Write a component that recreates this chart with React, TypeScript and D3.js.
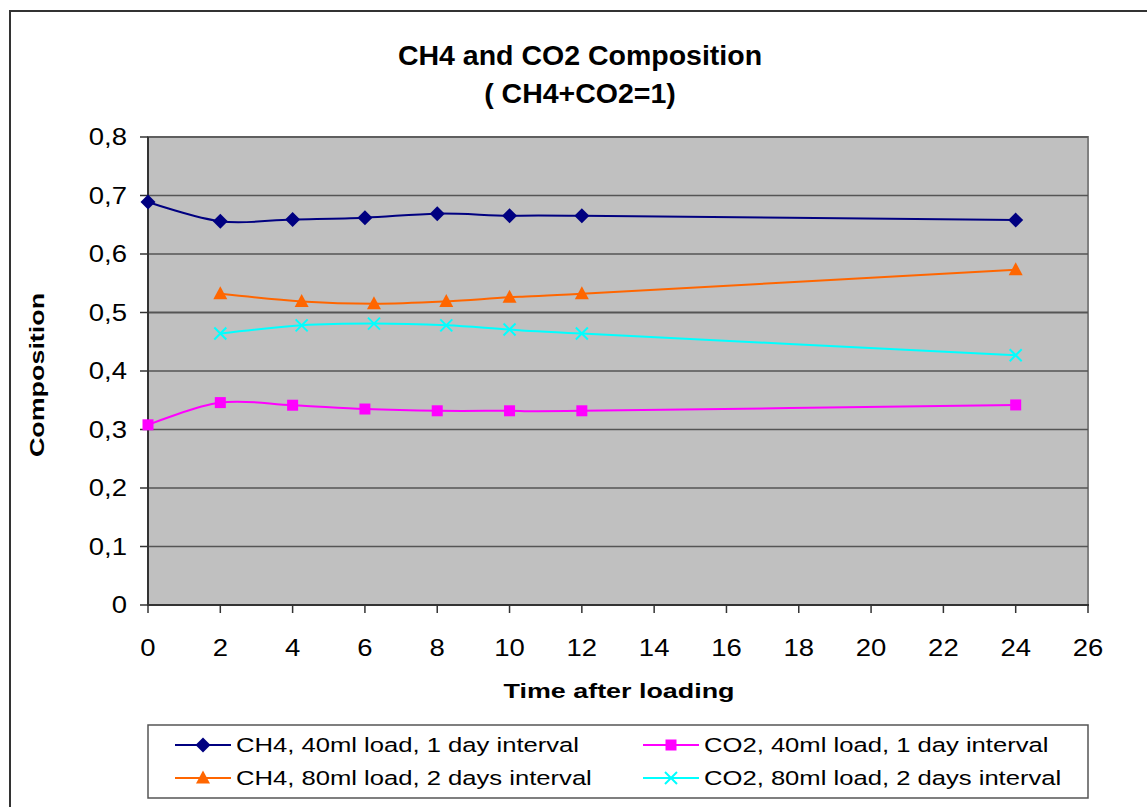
import React from "react";
import * as d3 from "d3";

const titleLines = ["CH4 and CO2 Composition", "( CH4+CO2=1)"];
const xTicks = [0, 2, 4, 6, 8, 10, 12, 14, 16, 18, 20, 22, 24, 26];
const yTicks = [0, 0.1, 0.2, 0.3, 0.4, 0.5, 0.6, 0.7, 0.8];

const ch4_40_x = [0, 2, 4, 6, 8, 10, 12, 24];
const ch4_40_y = [0.689, 0.656, 0.659, 0.662, 0.669, 0.6655, 0.6655, 0.658];
const co2_40_x = [0, 2, 4, 6, 8, 10, 12, 24];
const co2_40_y = [0.308, 0.346, 0.3415, 0.335, 0.332, 0.332, 0.332, 0.342];
const ch4_80_x = [2, 4.25, 6.25, 8.25, 10, 12, 24];
const ch4_80_y = [0.532, 0.519, 0.515, 0.519, 0.526, 0.532, 0.573];
const co2_80_x = [2, 4.25, 6.25, 8.25, 10, 12, 24];
const co2_80_y = [0.464, 0.478, 0.481, 0.478, 0.471, 0.464, 0.427];

const seriesNames = [
  "CH4, 40ml load, 1 day interval",
  "CO2, 40ml load, 1 day interval",
  "CH4, 80ml load, 2 days interval",
  "CO2, 80ml load, 2 days interval",
];
const seriesColors = ["#000080", "#FF00FF", "#FF6600", "#00FFFF"];
const seriesMarkers = ["diamond", "square", "triangle", "x"];

const W = 1147;
const H = 807;
const plot = { left: 148, right: 1088, top: 137, bottom: 605 };
const FONT = "'Liberation Sans', Arial, Helvetica, sans-serif";

function Marker({ type, x, y, color }: { type: string; x: number; y: number; color: string }) {
  if (type === "diamond") {
    const s = 7.5;
    return <path d={`M${x},${y - s}L${x + s},${y}L${x},${y + s}L${x - s},${y}Z`} fill={color} />;
  }
  if (type === "square") {
    const s = 5.5;
    return <rect x={x - s} y={y - s} width={2 * s} height={2 * s} fill={color} />;
  }
  if (type === "triangle") {
    return <path d={`M${x},${y - 7.5}L${x + 7},${y + 5.5}L${x - 7},${y + 5.5}Z`} fill={color} />;
  }
  const s = 6;
  return (
    <path
      d={`M${x - s},${y - s}L${x + s},${y + s}M${x - s},${y + s}L${x + s},${y - s}`}
      stroke={color}
      strokeWidth={2}
      fill="none"
    />
  );
}

function WideText({
  x,
  y,
  rotate = 0,
  anchor = "start",
  size,
  sx = 1.28,
  bold = false,
  dy,
  children,
}: {
  x: number;
  y: number;
  rotate?: number;
  anchor?: string;
  size: number;
  sx?: number;
  bold?: boolean;
  dy?: string;
  children: React.ReactNode;
}) {
  return (
    <text
      transform={`translate(${x},${y}) rotate(${rotate}) scale(${sx},1)`}
      textAnchor={anchor as any}
      fontSize={size}
      fontWeight={bold ? "bold" : "normal"}
      dy={dy}
      fill="#000"
    >
      {children}
    </text>
  );
}

export default function App() {
  const x = d3.scaleLinear().domain([0, 26]).range([plot.left, plot.right]);
  const y = d3.scaleLinear().domain([0, 0.8]).range([plot.bottom, plot.top]);
  const series = [
    { xs: ch4_40_x, ys: ch4_40_y },
    { xs: co2_40_x, ys: co2_40_y },
    { xs: ch4_80_x, ys: ch4_80_y },
    { xs: co2_80_x, ys: co2_80_y },
  ];
  const line = d3
    .line<[number, number]>()
    .x((d) => x(d[0]))
    .y((d) => y(d[1]))
    .curve(d3.curveCatmullRom.alpha(0));

  const fmt = (v: number) => (v === 0 ? "0" : d3.format(".1f")(v).replace(".", ","));

  const legendRows = [
    { y: 745, items: [0, 1] },
    { y: 778, items: [2, 3] },
  ];
  const legendCols = [175, 643];

  return (
    <svg
      width={W}
      height={H}
      style={{ position: "absolute", left: 0, top: 0, background: "#fff" }}
      fontFamily={FONT}
    >
      <rect x={0} y={0} width={W} height={H} fill="#fff" />
      {/* outer chart frame */}
      <rect x={10} y={11} width={W + 20} height={H + 20} fill="none" stroke="#333" strokeWidth={2} />

      {/* title */}
      {titleLines.map((t, i) => (
        <text key={i} x={580} y={65 + i * 38} textAnchor="middle" fontSize={28.5} fontWeight="bold" fill="#000">
          {t}
        </text>
      ))}

      {/* plot area */}
      <rect
        x={plot.left}
        y={plot.top}
        width={plot.right - plot.left}
        height={plot.bottom - plot.top}
        fill="#C0C0C0"
        stroke="#808080"
        strokeWidth={2}
      />
      {yTicks.map((t) => (
        <g key={t}>
          {t > 0 && (
            <line x1={plot.left} x2={plot.right} y1={y(t)} y2={y(t)} stroke="#555" strokeWidth={t === 0.5 ? 2 : 1.3} />
          )}
          <line x1={plot.left - 8} x2={plot.left} y1={y(t)} y2={y(t)} stroke="#333" strokeWidth={1.5} />
          <WideText x={127} y={y(t)} dy="0.36em" anchor="end" size={23.5} sx={1.17}>
            {fmt(t)}
          </WideText>
        </g>
      ))}
      {xTicks.map((t) => (
        <g key={t}>
          <line x1={x(t)} x2={x(t)} y1={plot.bottom} y2={plot.bottom + 8} stroke="#333" strokeWidth={1.5} />
          <WideText x={x(t)} y={656} anchor="middle" size={23.5} sx={1.17}>
            {t}
          </WideText>
        </g>
      ))}
      {/* axes */}
      <line x1={plot.left} x2={plot.left} y1={plot.top} y2={plot.bottom + 1} stroke="#333" strokeWidth={2} />
      <line x1={plot.left} x2={plot.right + 1} y1={plot.bottom} y2={plot.bottom} stroke="#333" strokeWidth={2} />

      {/* series */}
      {series.map((s, i) => {
        const pts: [number, number][] = s.xs.map((xv, j) => [xv, s.ys[j]]);
        return (
          <g key={i}>
            <path d={line(pts) || ""} fill="none" stroke={seriesColors[i]} strokeWidth={2} />
            {pts.map((p, j) => (
              <Marker key={j} type={seriesMarkers[i]} x={x(p[0])} y={y(p[1])} color={seriesColors[i]} />
            ))}
          </g>
        );
      })}

      {/* axis titles */}
      <WideText x={619} y={698} anchor="middle" size={21} bold>
        Time after loading
      </WideText>
      <WideText x={44} y={375} rotate={-90} anchor="middle" size={21} bold>
        Composition
      </WideText>

      {/* legend */}
      <rect x={148} y={725} width={940} height={73} fill="#fff" stroke="#555" strokeWidth={1.5} />
      {legendRows.map((row, r) =>
        row.items.map((si, c) => {
          const lx = legendCols[c];
          return (
            <g key={`${r}-${c}`}>
              <line x1={lx} x2={lx + 56} y1={row.y} y2={row.y} stroke={seriesColors[si]} strokeWidth={2} />
              <Marker type={seriesMarkers[si]} x={lx + 28} y={row.y} color={seriesColors[si]} />
              <WideText x={lx + 61} y={row.y} dy="0.36em" size={20.5} sx={1.25}>
                {seriesNames[si]}
              </WideText>
            </g>
          );
        })
      )}
    </svg>
  );
}
